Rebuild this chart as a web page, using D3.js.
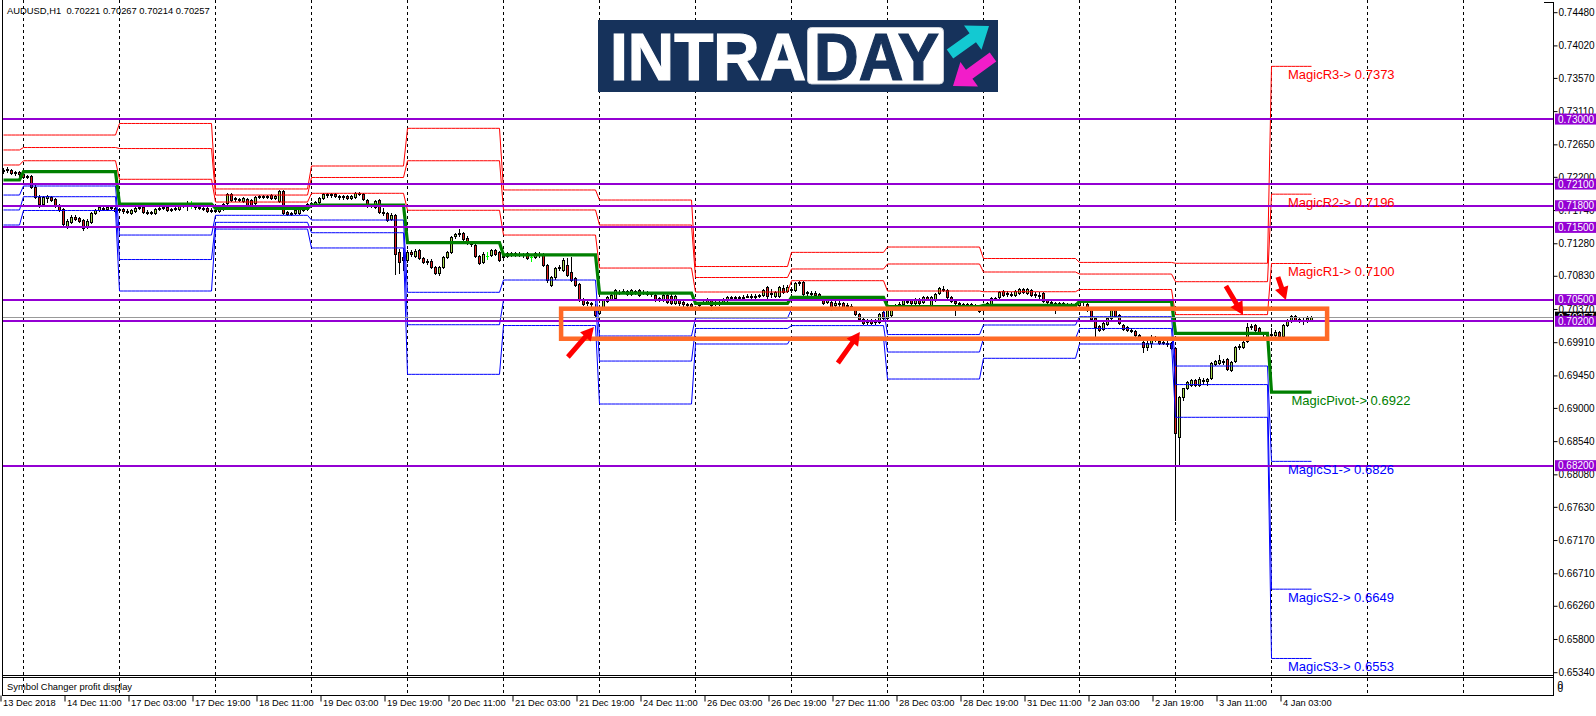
<!DOCTYPE html>
<html><head><meta charset="utf-8">
<script src="https://cdn.jsdelivr.net/npm/d3@7"></script>
<style>
html,body{margin:0;padding:0;background:#fff;}
svg{display:block;}
text{font-family:"Liberation Sans",Arial,sans-serif;}
</style></head><body>
<svg id="chart" width="1596" height="716"></svg>
<script>
// ---------- DATA ----------
const symbolTitle = "AUDUSD,H1  0.70221 0.70267 0.70214 0.70257";
const panelTitle = "Symbol Changer profit display";

const opens = [
0.7228,0.7229,0.7229,0.7225,0.7227,0.7224,0.7220,0.7221,0.7206,0.7192,
0.7182,0.7191,0.7192,0.7189,0.7181,0.7175,0.7152,0.7157,0.7164,0.7163,
0.7160,0.7150,0.7157,0.7170,0.7174,0.7177,0.7175,0.7178,0.7177,0.7174,
0.7175,0.7173,0.7170,0.7173,0.7178,0.7178,0.7171,0.7170,0.7170,0.7175,
0.7177,0.7178,0.7174,0.7175,0.7175,0.7180,0.7180,0.7181,0.7180,0.7178,
0.7177,0.7177,0.7174,0.7174,0.7173,0.7175,0.7184,0.7196,0.7189,0.7189,
0.7187,0.7189,0.7188,0.7184,0.7192,0.7193,0.7192,0.7195,0.7191,0.7187,
0.7200,0.7171,0.7168,0.7170,0.7170,0.7174,0.7175,0.7182,0.7182,0.7185,
0.7191,0.7196,0.7195,0.7196,0.7193,0.7192,0.7193,0.7191,0.7192,0.7198,
0.7196,0.7188,0.7180,0.7178,0.7188,0.7171,0.7170,0.7162,0.7167,0.7116,
0.7109,0.7105,0.7116,0.7110,0.7119,0.7108,0.7103,0.7103,0.7095,0.7087,
0.7095,0.7109,0.7116,0.7138,0.7141,0.7142,0.7135,0.7128,0.7126,0.7110,
0.7102,0.7110,0.7112,0.7119,0.7116,0.7109,0.7110,0.7113,0.7114,0.7113,
0.7113,0.7114,0.7109,0.7109,0.7113,0.7113,0.7098,0.7070,0.7081,0.7094,
0.7091,0.7098,0.7088,0.7080,0.7072,0.7051,0.7047,0.7045,0.7036,0.7031,
0.7040,0.7048,0.7051,0.7052,0.7060,0.7062,0.7062,0.7058,0.7062,0.7063,
0.7060,0.7059,0.7059,0.7056,0.7052,0.7049,0.7056,0.7055,0.7045,0.7049,
0.7047,0.7044,0.7044,0.7040,0.7042,0.7045,0.7045,0.7049,0.7045,0.7044,
0.7047,0.7049,0.7054,0.7052,0.7054,0.7052,0.7054,0.7055,0.7054,0.7055,
0.7056,0.7067,0.7058,0.7055,0.7055,0.7066,0.7062,0.7065,0.7063,0.7073,
0.7074,0.7060,0.7059,0.7059,0.7058,0.7052,0.7047,0.7047,0.7042,0.7045,
0.7045,0.7042,0.7041,0.7036,0.7030,0.7023,0.7022,0.7022,0.7020,0.7019,
0.7033,0.7024,0.7029,0.7038,0.7042,0.7044,0.7047,0.7049,0.7045,0.7051,
0.7047,0.7054,0.7042,0.7049,0.7059,0.7065,0.7063,0.7054,0.7048,0.7045,
0.7044,0.7042,0.7044,0.7042,0.7041,0.7036,0.7041,0.7042,0.7052,0.7054,
0.7062,0.7059,0.7058,0.7056,0.7059,0.7065,0.7059,0.7063,0.7058,0.7056,
0.7059,0.7049,0.7047,0.7045,0.7045,0.7044,0.7044,0.7042,0.7044,0.7042,
0.7048,0.7044,0.7036,0.7024,0.7013,0.7009,0.7016,0.7024,0.7036,0.7029,
0.7015,0.7012,0.7008,0.7006,0.7001,0.6991,0.6984,0.6990,0.6997,0.6993,
0.6991,0.6990,0.6990,0.6983,0.6860,0.6915,0.6928,0.6932,0.6939,0.6932,
0.6939,0.6937,0.6941,0.6961,0.6962,0.6965,0.6968,0.6953,0.6965,0.6984,
0.6984,0.6993,0.7012,0.7015,0.7011,0.7004,0.7002,0.7001,0.7001,0.7005,
0.6999,0.7015,0.7020,0.7027,0.7023,0.7022,0.7020,0.70221];

const highs = [
0.7232,0.7234,0.7231,0.7228,0.7228,0.7227,0.7223,0.7223,0.7209,0.7195,
0.7193,0.7195,0.7193,0.7191,0.7182,0.7177,0.7162,0.7167,0.7167,0.7164,
0.7162,0.7162,0.7171,0.7175,0.7180,0.7180,0.7180,0.7181,0.7178,0.7177,
0.7177,0.7175,0.7175,0.7178,0.7181,0.7180,0.7174,0.7173,0.7177,0.7180,
0.7181,0.7180,0.7177,0.7178,0.7181,0.7182,0.7187,0.7187,0.7181,0.7180,
0.7178,0.7178,0.7177,0.7180,0.7178,0.7184,0.7198,0.7198,0.7192,0.7191,
0.7192,0.7191,0.7189,0.7193,0.7195,0.7195,0.7195,0.7196,0.7195,0.7202,
0.7202,0.7173,0.7171,0.7174,0.7177,0.7181,0.7184,0.7185,0.7187,0.7192,
0.7198,0.7198,0.7198,0.7198,0.7195,0.7195,0.7195,0.7195,0.7199,0.7199,
0.7198,0.7189,0.7182,0.7188,0.7189,0.7177,0.7171,0.7170,0.7168,0.7120,
0.7116,0.7119,0.7119,0.7120,0.7120,0.7109,0.7106,0.7106,0.7097,0.7097,
0.7110,0.7117,0.7138,0.7142,0.7148,0.7143,0.7138,0.7131,0.7127,0.7112,
0.7116,0.7116,0.7120,0.7120,0.7117,0.7113,0.7116,0.7116,0.7116,0.7116,
0.7114,0.7116,0.7113,0.7116,0.7116,0.7114,0.7099,0.7083,0.7095,0.7098,
0.7108,0.7108,0.7109,0.7081,0.7073,0.7052,0.7048,0.7047,0.7044,0.7042,
0.7051,0.7055,0.7058,0.7065,0.7063,0.7065,0.7063,0.7065,0.7063,0.7065,
0.7063,0.7062,0.7060,0.7058,0.7054,0.7058,0.7058,0.7058,0.7056,0.7051,
0.7048,0.7045,0.7045,0.7041,0.7047,0.7048,0.7052,0.7051,0.7048,0.7048,
0.7052,0.7055,0.7055,0.7055,0.7055,0.7056,0.7058,0.7058,0.7058,0.7058,
0.7065,0.7069,0.7065,0.7062,0.7069,0.7070,0.7070,0.7067,0.7074,0.7076,
0.7076,0.7062,0.7062,0.7062,0.7059,0.7054,0.7054,0.7049,0.7049,0.7049,
0.7047,0.7045,0.7044,0.7037,0.7031,0.7024,0.7023,0.7023,0.7023,0.7031,
0.7034,0.7037,0.7037,0.7044,0.7047,0.7051,0.7051,0.7051,0.7052,0.7052,
0.7055,0.7055,0.7055,0.7059,0.7067,0.7069,0.7065,0.7055,0.7049,0.7047,
0.7045,0.7045,0.7045,0.7044,0.7042,0.7042,0.7047,0.7054,0.7054,0.7062,
0.7063,0.7062,0.7060,0.7063,0.7066,0.7066,0.7066,0.7065,0.7060,0.7060,
0.7060,0.7051,0.7048,0.7047,0.7047,0.7047,0.7045,0.7045,0.7045,0.7051,
0.7049,0.7045,0.7037,0.7026,0.7015,0.7019,0.7026,0.7040,0.7037,0.7030,
0.7016,0.7013,0.7011,0.7008,0.7002,0.6993,0.6993,0.7001,0.6999,0.6994,
0.6993,0.6993,0.6991,0.6984,0.6917,0.6928,0.6937,0.6940,0.6940,0.6943,
0.6941,0.6941,0.6963,0.6966,0.6973,0.6968,0.6969,0.6965,0.6986,0.6988,
0.6993,0.7018,0.7016,0.7016,0.7012,0.7005,0.7004,0.7011,0.7008,0.7006,
0.7016,0.7023,0.7029,0.7029,0.7026,0.7024,0.7027,0.70267];

const lows = [
0.7225,0.7227,0.7224,0.7223,0.7221,0.7218,0.7218,0.7205,0.7191,0.7178,
0.7181,0.7185,0.7187,0.7178,0.7173,0.7153,0.7149,0.7156,0.7160,0.7157,
0.7146,0.7149,0.7156,0.7168,0.7173,0.7174,0.7174,0.7175,0.7171,0.7171,
0.7170,0.7170,0.7168,0.7171,0.7175,0.7170,0.7168,0.7168,0.7168,0.7174,
0.7175,0.7173,0.7173,0.7174,0.7174,0.7178,0.7174,0.7177,0.7175,0.7175,
0.7174,0.7171,0.7171,0.7171,0.7171,0.7174,0.7182,0.7187,0.7187,0.7187,
0.7185,0.7180,0.7180,0.7182,0.7191,0.7191,0.7191,0.7189,0.7189,0.7185,
0.7168,0.7167,0.7167,0.7168,0.7168,0.7173,0.7174,0.7178,0.7181,0.7184,
0.7189,0.7192,0.7192,0.7192,0.7189,0.7189,0.7189,0.7189,0.7191,0.7195,
0.7188,0.7178,0.7178,0.7177,0.7170,0.7167,0.7159,0.7160,0.7085,0.7087,
0.7091,0.7102,0.7110,0.7109,0.7106,0.7101,0.7099,0.7094,0.7085,0.7084,
0.7094,0.7108,0.7114,0.7135,0.7138,0.7132,0.7127,0.7124,0.7109,0.7099,
0.7101,0.7106,0.7110,0.7112,0.7103,0.7106,0.7109,0.7110,0.7110,0.7110,
0.7109,0.7106,0.7103,0.7108,0.7109,0.7097,0.7074,0.7069,0.7079,0.7091,
0.7090,0.7083,0.7076,0.7069,0.7048,0.7042,0.7042,0.7041,0.7026,0.7030,
0.7038,0.7047,0.7049,0.7051,0.7058,0.7059,0.7056,0.7056,0.7058,0.7055,
0.7058,0.7056,0.7055,0.7048,0.7048,0.7048,0.7045,0.7044,0.7044,0.7042,
0.7041,0.7040,0.7040,0.7030,0.7041,0.7044,0.7044,0.7036,0.7042,0.7042,
0.7045,0.7048,0.7051,0.7051,0.7051,0.7051,0.7054,0.7052,0.7052,0.7054,
0.7055,0.7052,0.7054,0.7054,0.7054,0.7059,0.7060,0.7060,0.7062,0.7070,
0.7056,0.7056,0.7056,0.7055,0.7049,0.7044,0.7045,0.7036,0.7038,0.7041,
0.7038,0.7038,0.7037,0.7029,0.7022,0.7016,0.7016,0.7016,0.7016,0.7018,
0.7023,0.7023,0.7027,0.7037,0.7040,0.7042,0.7045,0.7044,0.7044,0.7044,
0.7045,0.7049,0.7041,0.7048,0.7058,0.7062,0.7052,0.7047,0.7029,0.7041,
0.7041,0.7040,0.7041,0.7040,0.7033,0.7034,0.7040,0.7041,0.7049,0.7052,
0.7055,0.7055,0.7055,0.7055,0.7058,0.7059,0.7058,0.7055,0.7054,0.7051,
0.7047,0.7044,0.7044,0.7031,0.7042,0.7042,0.7041,0.7041,0.7040,0.7041,
0.7042,0.7034,0.7022,0.6998,0.7006,0.7008,0.7015,0.7023,0.7026,0.7016,
0.7008,0.7006,0.7005,0.6999,0.6994,0.6977,0.6980,0.6984,0.6993,0.6988,
0.6988,0.6986,0.6981,0.6745,0.6821,0.6911,0.6926,0.6930,0.6930,0.6930,
0.6933,0.6932,0.6940,0.6959,0.6961,0.6961,0.6953,0.6951,0.6963,0.6981,
0.6983,0.6991,0.7009,0.7006,0.7002,0.6999,0.6998,0.6998,0.6999,0.6998,
0.6998,0.7013,0.7019,0.7020,0.7019,0.7016,0.7019,0.70214];

const closes = [
0.7229,0.7231,0.7225,0.7227,0.7224,0.7220,0.7221,0.7206,0.7192,0.7182,
0.7192,0.7193,0.7188,0.7180,0.7174,0.7155,0.7159,0.7164,0.7162,0.7159,
0.7149,0.7159,0.7170,0.7174,0.7178,0.7175,0.7178,0.7177,0.7173,0.7175,
0.7173,0.7171,0.7174,0.7177,0.7177,0.7171,0.7170,0.7171,0.7175,0.7177,
0.7178,0.7174,0.7175,0.7177,0.7180,0.7181,0.7181,0.7181,0.7178,0.7177,
0.7175,0.7173,0.7173,0.7173,0.7177,0.7182,0.7196,0.7188,0.7191,0.7188,
0.7191,0.7181,0.7181,0.7192,0.7193,0.7192,0.7193,0.7191,0.7193,0.7200,
0.7170,0.7168,0.7170,0.7174,0.7175,0.7180,0.7182,0.7184,0.7185,0.7191,
0.7196,0.7195,0.7196,0.7193,0.7192,0.7193,0.7191,0.7193,0.7198,0.7196,
0.7189,0.7180,0.7181,0.7187,0.7171,0.7170,0.7160,0.7167,0.7113,0.7102,
0.7105,0.7116,0.7113,0.7117,0.7108,0.7102,0.7102,0.7095,0.7087,0.7095,
0.7109,0.7116,0.7136,0.7141,0.7142,0.7134,0.7128,0.7127,0.7110,0.7101,
0.7113,0.7110,0.7119,0.7113,0.7105,0.7110,0.7114,0.7114,0.7113,0.7112,
0.7112,0.7108,0.7109,0.7114,0.7112,0.7098,0.7077,0.7081,0.7094,0.7095,
0.7105,0.7084,0.7077,0.7070,0.7049,0.7044,0.7045,0.7044,0.7029,0.7040,
0.7049,0.7054,0.7056,0.7063,0.7059,0.7060,0.7058,0.7063,0.7060,0.7056,
0.7059,0.7058,0.7058,0.7049,0.7051,0.7056,0.7047,0.7045,0.7055,0.7045,
0.7044,0.7042,0.7041,0.7038,0.7044,0.7047,0.7051,0.7042,0.7044,0.7047,
0.7049,0.7054,0.7052,0.7054,0.7052,0.7054,0.7055,0.7054,0.7055,0.7056,
0.7063,0.7055,0.7059,0.7060,0.7067,0.7060,0.7067,0.7063,0.7073,0.7074,
0.7058,0.7059,0.7058,0.7056,0.7051,0.7045,0.7051,0.7037,0.7045,0.7044,
0.7040,0.7041,0.7040,0.7030,0.7023,0.7018,0.7019,0.7018,0.7019,0.7030,
0.7024,0.7036,0.7036,0.7042,0.7044,0.7049,0.7048,0.7045,0.7049,0.7045,
0.7054,0.7051,0.7054,0.7058,0.7066,0.7063,0.7054,0.7048,0.7045,0.7044,
0.7042,0.7044,0.7042,0.7041,0.7034,0.7041,0.7045,0.7052,0.7051,0.7060,
0.7056,0.7058,0.7056,0.7062,0.7065,0.7060,0.7065,0.7056,0.7056,0.7055,
0.7048,0.7047,0.7045,0.7044,0.7044,0.7045,0.7042,0.7044,0.7041,0.7049,
0.7047,0.7036,0.7023,0.7012,0.7008,0.7018,0.7024,0.7036,0.7027,0.7018,
0.7009,0.7008,0.7006,0.7001,0.6995,0.6984,0.6990,0.6998,0.6994,0.6990,
0.6990,0.6988,0.6983,0.6865,0.6915,0.6928,0.6936,0.6939,0.6932,0.6940,
0.6937,0.6940,0.6962,0.6965,0.6966,0.6963,0.6954,0.6963,0.6984,0.6986,
0.6991,0.7012,0.7013,0.7008,0.7004,0.7002,0.7001,0.7002,0.7005,0.6999,
0.7015,0.7022,0.7027,0.7022,0.7022,0.7020,0.7024,0.70257];

// first bar index of each trading day (13 Dec ... 4 Jan)
const dayStarts = [0,5,29,53,77,101,125,149,173,197,221,245,269,293,317];
const r3 = [0.72779,0.72779,0.72939,0.72032,0.72350,0.72872,0.72018,0.71879,0.70958,0.71154,0.71228,0.71069,0.71015,0.71003,0.7373];
const r2 = [0.72572,0.72606,0.72592,0.71948,0.72191,0.72423,0.71741,0.71533,0.70806,0.70924,0.70993,0.70882,0.70854,0.70748,0.7196];
const r1 = [0.72364,0.72423,0.72166,0.71851,0.71972,0.71737,0.71394,0.70937,0.70605,0.70762,0.70619,0.70609,0.70640,0.70292,0.7100];
const pivot = [0.72156,0.72271,0.71824,0.71764,0.71810,0.71288,0.71118,0.70591,0.70449,0.70532,0.70404,0.70421,0.70476,0.70033,0.6922];
const s1 = [0.71948,0.72073,0.71394,0.71667,0.71602,0.70601,0.70771,0.69996,0.70245,0.70370,0.70016,0.70148,0.70263,0.69580,0.6826];
const s2 = [0.71741,0.71925,0.71055,0.71570,0.71426,0.70152,0.70494,0.69649,0.70100,0.70140,0.69774,0.69961,0.70100,0.69323,0.6649];
const s3 = [0.71533,0.71734,0.70619,0.71477,0.71215,0.69465,0.70141,0.69054,0.69885,0.69978,0.69400,0.69687,0.69885,0.68870,0.6553];

const magicNames = ["MagicR3","MagicR2","MagicR1","MagicPivot","MagicS1","MagicS2","MagicS3"];
const magicValues = [0.7373,0.7196,0.7100,0.6922,0.6826,0.6649,0.6553];

const levelLines = [0.7300,0.7210,0.7180,0.7150,0.7050,0.7020,0.6820];
const bidPrice = 0.70257;

const priceTicks = [0.74480,0.74020,0.73570,0.73110,0.72650,0.72200,0.71740,0.71280,0.70830,0.70370,
  0.69910,0.69450,0.69000,0.68540,0.68080,0.67630,0.67170,0.66710,0.66260,0.65800,0.65340];

const timeLabels = ["13 Dec 2018","14 Dec 11:00","17 Dec 03:00","17 Dec 19:00","18 Dec 11:00","19 Dec 03:00",
  "19 Dec 19:00","20 Dec 11:00","21 Dec 03:00","21 Dec 19:00","24 Dec 11:00","26 Dec 03:00","26 Dec 19:00",
  "27 Dec 11:00","28 Dec 03:00","28 Dec 19:00","31 Dec 11:00","2 Jan 03:00","2 Jan 19:00","3 Jan 11:00","4 Jan 03:00"];
const timeLabelBars = [0,16,32,48,64,80,96,112,128,144,160,176,192,208,224,240,256,272,288,304,320];
const gridBars = [5,29,53,77,101,125,149,173,197,221,245,269,293,317,341,365];

// annotations in (bar, price) space
const boxBars = [139.4, 330.9];
const boxPrices = [0.70374, 0.69958];
const redArrows = [
  {from:[141.1,0.69705], to:[147.6,0.70120]},
  {from:[208.6,0.69622], to:[214.1,0.70051]},
  {from:[305.6,0.70688], to:[309.9,0.70287]},
  {from:[318.6,0.70813], to:[320.6,0.70494]}
];

// ---------- CHART ----------
const W = 1596, H = 716;
const svg = d3.select("#chart");
svg.append("rect").attr("width",W).attr("height",H).attr("fill","#fff");

const x = d3.scaleLinear().domain([0, 388]).range([3.5, 3.5 + 4*388]);
const y = d3.scaleLinear().domain([0.7448, 0.6534]).range([12.2, 672.2]);
const axisX = 1553.5, chartBottom = 675.5, panelTop = 677.5, panelBottom = 695.5, leftX = 2.5;

// grid
svg.append("g").selectAll("line").data(gridBars).join("line")
  .attr("x1", d=>x(d)).attr("x2", d=>x(d)).attr("y1", 0).attr("y2", panelBottom)
  .attr("stroke","#000").attr("stroke-width",1).attr("stroke-dasharray","3,3");

// candles
const idx = d3.range(opens.length);
const gC = svg.append("g").attr("shape-rendering","crispEdges");
const isDoji = i => opens[i] === closes[i];
gC.selectAll("line.wick").data(idx).join("line").attr("class","wick")
  .attr("x1", i=>x(i)).attr("x2", i=>x(i))
  .attr("y1", i=>Math.round(y(highs[i]))).attr("y2", i=>Math.round(y(lows[i]))+1)
  .attr("stroke", i=> isDoji(i) ? "#00ff00" : "#000").attr("stroke-width",1);
gC.selectAll("rect.body").data(idx.filter(i=>!isDoji(i))).join("rect").attr("class","body")
  .attr("x", i=>x(i)-1)
  .attr("y", i=>Math.round(y(Math.max(opens[i],closes[i])))+0.5)
  .attr("width", 2)
  .attr("height", i=>Math.max(1, Math.round(y(Math.min(opens[i],closes[i]))) - Math.round(y(Math.max(opens[i],closes[i])))))
  .attr("fill", i=> closes[i] > opens[i] ? "#a6dc4c" : "#dc1e1e")
  .attr("stroke","#000").attr("stroke-width",1);
gC.selectAll("line.doji").data(idx.filter(isDoji)).join("line").attr("class","doji")
  .attr("x1", i=>x(i)-1.5).attr("x2", i=>x(i)+1.5)
  .attr("y1", i=>Math.round(y(opens[i]))+0.5).attr("y2", i=>Math.round(y(opens[i]))+0.5)
  .attr("stroke","#00ff00");

// pivot indicator lines
const dayOf = i => d3.bisectRight(dayStarts, i) - 1;
const series = arr => idx.map(i => arr[dayOf(i)]);
const lg = d3.line().x((d,i)=>x(i)).y(d=>y(d));
const gI = svg.append("g").attr("fill","none");
[s1,s2,s3].forEach(a => gI.append("path").attr("d", lg(series(a))).attr("stroke","#0000ff").attr("stroke-width",1));
[r1,r2,r3].forEach(a => gI.append("path").attr("d", lg(series(a))).attr("stroke","#ff0000").attr("stroke-width",1));
gI.append("path").attr("d", lg(series(pivot))).attr("stroke","#008000").attr("stroke-width",3.2);

// bid line
svg.append("line").attr("x1",leftX).attr("x2",axisX)
  .attr("y1",Math.round(y(bidPrice))+0.5).attr("y2",Math.round(y(bidPrice))+0.5)
  .attr("stroke","#999").attr("stroke-width",1);

// purple horizontal levels
svg.append("g").selectAll("line").data(levelLines).join("line")
  .attr("x1",leftX).attr("x2",axisX).attr("y1",d=>Math.round(y(d))).attr("y2",d=>Math.round(y(d)))
  .attr("stroke","#9400d3").attr("stroke-width",2);

// magic labels
const magicColors = ["#ff0000","#ff0000","#ff0000","#008000","#0000ff","#0000ff","#0000ff"];
const lastDayX = x(dayStarts[dayStarts.length-1]);
svg.append("g").selectAll("text").data(magicValues).join("text")
  .attr("x", (d,i)=> lastDayX + (i===3 ? 20 : 16.5))
  .attr("y", d=> y(d) + 12.5)
  .attr("font-size", 13).attr("fill",(d,i)=>magicColors[i])
  .text((d,i)=> magicNames[i] + "-> " + d3.format(".4f")(d));

// frame
const gF = svg.append("g").attr("stroke","#000").attr("stroke-width",1).attr("shape-rendering","crispEdges");
gF.append("line").attr("x1",leftX).attr("x2",leftX).attr("y1",0).attr("y2",panelBottom);
gF.append("line").attr("x1",axisX).attr("x2",axisX).attr("y1",2.5).attr("y2",panelBottom);
gF.append("line").attr("x1",axisX-10).attr("x2",axisX).attr("y1",2.5).attr("y2",2.5);
[chartBottom, panelTop, panelBottom].forEach(v => gF.append("line").attr("x1",leftX).attr("x2",axisX).attr("y1",v).attr("y2",v));

// price axis
const ya = svg.append("g").attr("transform",`translate(${axisX},0)`)
  .call(d3.axisRight(y).tickValues(priceTicks).tickFormat(d3.format(".5f")).tickSize(4).tickPadding(1));
ya.select(".domain").remove();
ya.selectAll("line").attr("stroke","#000");
ya.selectAll("text").attr("font-size",10).attr("fill","#000").attr("font-family","Liberation Sans, Arial, sans-serif");

// bid label (black) and level labels (purple)
svg.append("rect").attr("x",axisX+1.5).attr("y",y(bidPrice)-5.5).attr("width",41).attr("height",11).attr("fill","#000");
svg.append("text").attr("x",axisX+4.5).attr("y",y(bidPrice)+3.6).attr("font-size",10).attr("fill","#fff").text(d3.format(".5f")(bidPrice));
const gL = svg.append("g").selectAll("g").data(levelLines).join("g");
gL.append("rect").attr("x",axisX+1.5).attr("y",d=>y(d)-5.5).attr("width",41).attr("height",11).attr("fill","#9400d3");
gL.append("text").attr("x",axisX+4.5).attr("y",d=>y(d)+3.6).attr("font-size",10).attr("fill","#fff").text(d=>d3.format(".5f")(d));

// time axis
const xa = svg.append("g").attr("transform",`translate(-3,${panelBottom})`)
  .call(d3.axisBottom(x).tickValues(timeLabelBars).tickFormat((d,i)=>timeLabels[i]).tickSize(6));
xa.select(".domain").remove();
xa.selectAll("line").attr("stroke","#000");
xa.selectAll("text").attr("text-anchor","start").attr("x",2).attr("y",3.5)
  .attr("font-size",9.3).attr("fill","#000").attr("font-family","Liberation Sans, Arial, sans-serif");

// texts
svg.append("text").attr("x",7).attr("y",14.3).attr("font-size",9.4).style("white-space","pre").attr("fill","#000").text(symbolTitle);
svg.append("text").attr("x",7).attr("y",689.5).attr("font-size",9.4).attr("fill","#000").text(panelTitle);
svg.append("text").attr("x",axisX+4).attr("y",689).attr("font-size",10).text("0");
svg.append("text").attr("x",axisX+4).attr("y",691.5).attr("font-size",10).text("0");

// arrow helper
function arrowPath(x1,y1,x2,y2,shaft,headW,headL){
  const dx=x2-x1, dy=y2-y1, L=Math.hypot(dx,dy), ux=dx/L, uy=dy/L, px=-uy, py=ux;
  const bx=x2-ux*headL, by=y2-uy*headL, s=shaft/2, h=headW/2;
  const p = d3.path();
  p.moveTo(x1+px*s, y1+py*s); p.lineTo(bx+px*s, by+py*s); p.lineTo(bx+px*h, by+py*h);
  p.lineTo(x2,y2); p.lineTo(bx-px*h, by-py*h); p.lineTo(bx-px*s, by-py*s); p.lineTo(x1-px*s, y1-py*s); p.closePath();
  return p.toString();
}

// logo
const gLogo = svg.append("g");
gLogo.append("rect").attr("x",598).attr("y",20).attr("width",400).attr("height",72).attr("fill","#16325b");
gLogo.append("text").attr("x",610).attr("y",80).attr("font-size",66).attr("font-weight",900)
  .attr("font-family","Roboto, Lato, 'Open Sans', sans-serif").attr("fill","#fff")
  .attr("stroke","#fff").attr("stroke-width",1.2)
  .attr("textLength",196).attr("lengthAdjust","spacingAndGlyphs").text("INTRA");
gLogo.append("rect").attr("x",807.5).attr("y",27.5).attr("width",136).attr("height",56.5).attr("rx",4)
  .attr("fill","#fff").attr("stroke","#c8cdd6");
gLogo.append("text").attr("x",814).attr("y",80).attr("font-size",66).attr("font-weight",900)
  .attr("font-family","Roboto, Lato, 'Open Sans', sans-serif").attr("fill","#16325b")
  .attr("stroke","#16325b").attr("stroke-width",1.2)
  .attr("textLength",125).attr("lengthAdjust","spacingAndGlyphs").text("DAY");
gLogo.append("path").attr("d",arrowPath(950,54,989,26,11,30,20)).attr("fill","#13c9d2");
gLogo.append("path").attr("d",arrowPath(993,57,953,86,11,30,20)).attr("fill","#f21dc9");

// annotations
svg.append("rect").attr("x",x(boxBars[0])).attr("y",y(boxPrices[0]))
  .attr("width",x(boxBars[1])-x(boxBars[0])).attr("height",y(boxPrices[1])-y(boxPrices[0]))
  .attr("fill","none").attr("stroke","#ff6a26").attr("stroke-width",4.5);
svg.append("g").selectAll("path").data(redArrows).join("path")
  .attr("d", d=>arrowPath(x(d.from[0]),y(d.from[1]),x(d.to[0]),y(d.to[1]),5,14,13))
  .attr("fill","#ff0000");
</script></body></html>
